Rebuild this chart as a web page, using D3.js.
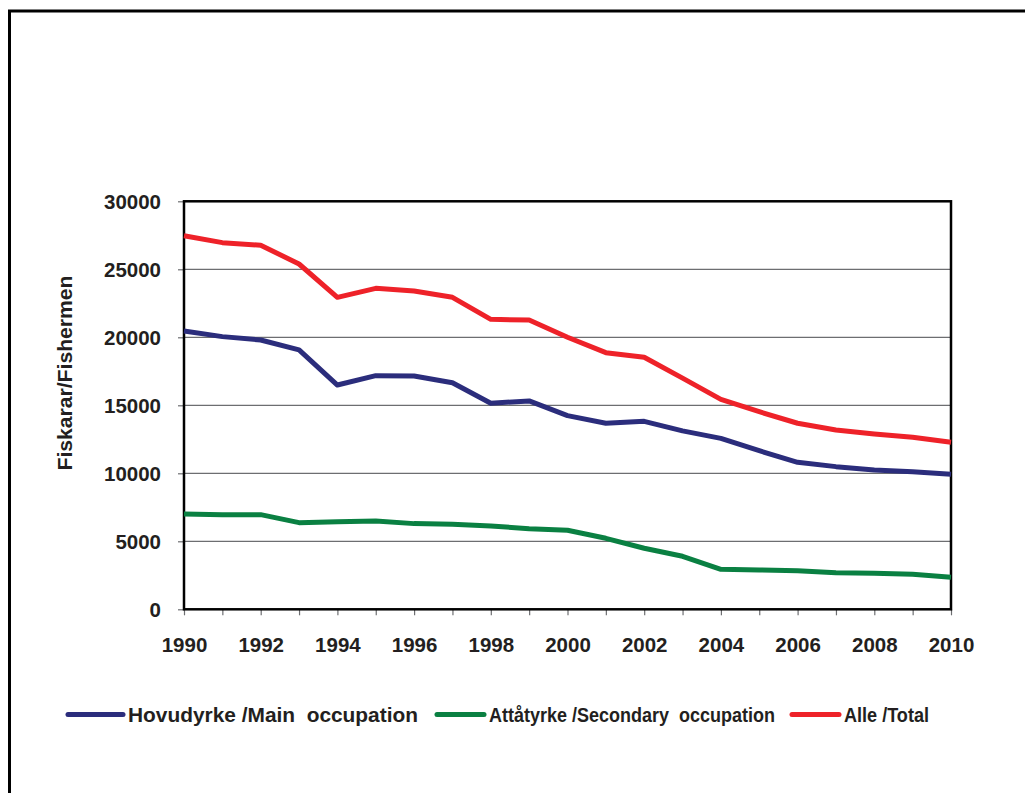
<!DOCTYPE html>
<html><head><meta charset="utf-8">
<script src="https://cdn.jsdelivr.net/npm/d3@7"></script>
<style>body{margin:0;background:#fff}svg{display:block}text{font-family:"Liberation Sans",Arial,sans-serif;font-weight:bold;fill:#231f20}</style>
</head><body>
<script>
const years = [1990,1991,1992,1993,1994,1995,1996,1997,1998,1999,2000,2001,2002,2003,2004,2005,2006,2007,2008,2009,2010];
const mainOcc = [20460,20050,19800,19070,16490,17180,17150,16660,15150,15320,14240,13680,13820,13120,12570,11660,10810,10490,10240,10120,9930];
const secondaryOcc = [7010,6960,6960,6370,6440,6490,6300,6250,6130,5930,5810,5220,4490,3900,2940,2890,2840,2690,2650,2570,2350];
const totalOcc = [27470,26960,26770,25390,22940,23600,23400,22940,21320,21270,20000,18870,18530,17000,15440,14530,13680,13180,12890,12650,12280];
const yTicks = [0,5000,10000,15000,20000,25000,30000];
const xTickLabels = [1990,1992,1994,1996,1998,2000,2002,2004,2006,2008,2010];
const seriesNames = ["Hovudyrke /Main  occupation","Attåtyrke /Secondary  occupation","Alle /Total"];
const seriesColors = ["#2b2d7c","#0a8042","#ee2229"];
const yTitle = "Fiskarar/Fishermen";

const W=1025,H=793;
const svg=d3.select("body").append("svg").attr("width",W).attr("height",H);
svg.append("rect").attr("x",9.5).attr("y",11).attr("width",1200).attr("height",1000)
  .attr("fill","none").attr("stroke","#000").attr("stroke-width",3);

const L=184,R=951,T=201.3,B=609.3;
const x=d3.scaleLinear().domain([1990,2010]).range([L,R]);
const y=d3.scaleLinear().domain([0,30000]).range([B,T]);

// gridlines
svg.append("g").selectAll("line").data(yTicks.slice(1,-1)).join("line")
  .attr("x1",L).attr("x2",R).attr("y1",d=>y(d)).attr("y2",d=>y(d))
  .attr("stroke","#6d6e71").attr("stroke-width",1.2);

// y axis
const ya=svg.append("g").attr("transform",`translate(${L},0)`)
  .call(d3.axisLeft(y).tickValues(yTicks).tickSize(6).tickPadding(17).tickFormat(d=>d));
ya.select(".domain").remove();
ya.selectAll(".tick line").attr("stroke","#6d6e71").attr("stroke-width",1.2);
ya.selectAll("text").style("font-size","20.5px").attr("fill","#231f20").attr("dy","0.36em");

// x axis
const xa=svg.append("g").attr("transform",`translate(0,${B})`)
  .call(d3.axisBottom(x).tickValues(years).tickSize(6).tickPadding(0).tickFormat(d=>xTickLabels.includes(d)?d:""));
xa.select(".domain").remove();
xa.selectAll(".tick line").attr("stroke","#6d6e71").attr("stroke-width",1.2);
xa.selectAll("text").style("font-size","20.5px").attr("fill","#231f20").attr("y",43).attr("dy","0");

// plot frame
svg.append("rect").attr("x",L).attr("y",T).attr("width",R-L).attr("height",B-T)
  .attr("fill","none").attr("stroke","#000").attr("stroke-width",2.5);

// lines
const line=d3.line().x((d,i)=>x(years[i])).y(d=>y(d));
[mainOcc,secondaryOcc,totalOcc].forEach((s,k)=>{
  svg.append("path").datum(s).attr("d",line).attr("fill","none")
    .attr("stroke",seriesColors[k]).attr("stroke-width",5).attr("stroke-linejoin","round");
});

// y title
svg.append("text").attr("transform","translate(72,373) rotate(-90)").attr("text-anchor","middle")
  .style("font-size","20.5px").attr("textLength",195).attr("lengthAdjust","spacingAndGlyphs").text(yTitle);

// legend
const legX=[68,437,792];
const legLen=[55,47,47];
const legTextLen=[290,286,85];
const legY=714.5;
seriesNames.forEach((n,k)=>{
  svg.append("line").attr("x1",legX[k]).attr("x2",legX[k]+legLen[k]).attr("y1",legY).attr("y2",legY)
    .attr("stroke",seriesColors[k]).attr("stroke-width",5).attr("stroke-linecap","round");
  svg.append("text").attr("x",legX[k]+legLen[k]+5).attr("y",722).style("font-size","20.5px")
    .style("white-space","pre").attr("xml:space","preserve")
    .attr("textLength",legTextLen[k]).attr("lengthAdjust","spacingAndGlyphs").text(n);
});
</script>
</body></html>
